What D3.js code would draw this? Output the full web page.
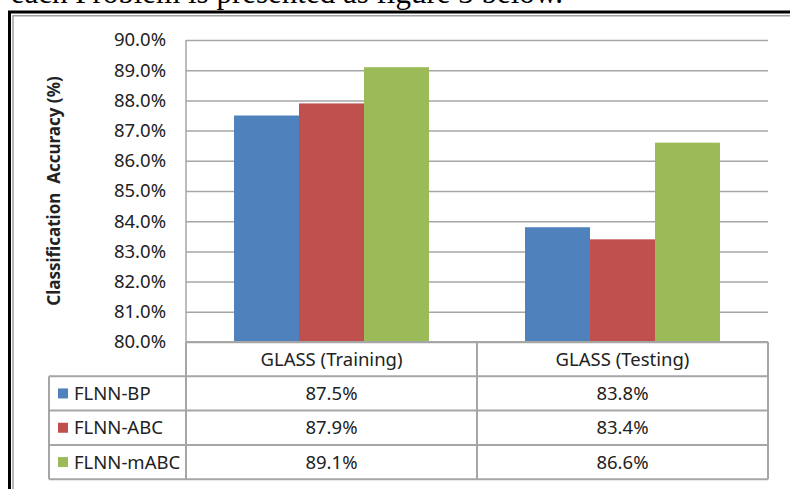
<!DOCTYPE html>
<html>
<head>
<meta charset="utf-8">
<script src="https://cdn.jsdelivr.net/npm/d3@7"></script>
<style>
  body { margin: 0; background: #fff; }
  svg { display: block; }
  text { font-family: "Noto Sans", sans-serif; fill: #222; }
</style>
</head>
<body>
<svg width="790" height="489"></svg>
<script>
// Data
var categories = ['GLASS (Training)', 'GLASS (Testing)'];
var seriesNames = ['FLNN-BP', 'FLNN-ABC', 'FLNN-mABC'];
var seriesColors = ['#4F81BD', '#C0504D', '#9BBB59'];
var flnnBP = [87.5, 83.8];
var flnnABC = [87.9, 83.4];
var flnnMABC = [89.1, 86.6];
var yTicks = [80, 81, 82, 83, 84, 85, 86, 87, 88, 89, 90];

var seriesValues = [flnnBP, flnnABC, flnnMABC];

var svg = d3.select('svg');

// Layout
var plot = {l: 186, r: 768, t: 40, b: 342};
var table = {l: 49, col: 477, rowH: 34.3};

var xScale = d3.scaleBand()
    .domain(categories)
    .range([plot.l, plot.r])
    .paddingInner(0.33)
    .paddingOuter(0.165);

var seriesScale = d3.scaleBand()
    .domain(seriesNames)
    .range([0, xScale.bandwidth()]);

var yScale = d3.scaleLinear().domain([80, 90]).range([plot.b, plot.t]);

// Top line of surrounding document text (cut off in the source image)
svg.append('text')
    .attr('x', 563)
    .attr('y', 2.5)
    .attr('text-anchor', 'end')
    .style('font-family', '"Liberation Serif", serif')
    .style('font-size', '31px')
    .style('fill', '#000')
    .text('each Problem is presented as figure 3 below.');

// Outer frame: thick black + thin gray
svg.append('path')
    .attr('d', 'M9.5,489V12H800')
    .attr('fill', 'none').attr('stroke', '#000').attr('stroke-width', 3);
svg.append('path')
    .attr('d', 'M13,489V15.8H800')
    .attr('fill', 'none').attr('stroke', '#a0a0a0').attr('stroke-width', 1.5);

// Gridlines
var yAxis = d3.axisLeft(yScale)
    .tickValues(yTicks)
    .tickSize(-(plot.r - plot.l))
    .tickFormat(function(d) { return d3.format('.1f')(d) + '%'; });

var yAxisG = svg.append('g')
    .attr('transform', 'translate(' + plot.l + ',0)')
    .call(yAxis);
yAxisG.select('.domain').remove();
yAxisG.selectAll('.tick line')
    .attr('stroke', '#a6a6a6')
    .attr('stroke-width', 1.5);
yAxisG.selectAll('.tick text')
    .attr('x', -20)
    .style('font-size', '18.5px')
    .style('font-family', '"Noto Sans", sans-serif')
    .attr('fill', '#222');

// Left axis line
svg.append('line')
    .attr('x1', plot.l).attr('x2', plot.l)
    .attr('y1', plot.t).attr('y2', plot.b)
    .attr('stroke', '#a6a6a6').attr('stroke-width', 1.5);

// Bars
var groups = svg.selectAll('.group')
    .data(categories)
    .enter()
    .append('g')
    .attr('class', 'group')
    .attr('transform', function(d) { return 'translate(' + xScale(d) + ',0)'; });

groups.selectAll('rect')
    .data(function(cat, ci) {
        return seriesNames.map(function(s, si) {
            return {series: s, value: seriesValues[si][ci], color: seriesColors[si]};
        });
    })
    .enter()
    .append('rect')
    .attr('x', function(d) { return seriesScale(d.series); })
    .attr('width', seriesScale.bandwidth())
    .attr('y', function(d) { return yScale(d.value); })
    .attr('height', function(d) { return yScale(80) - yScale(d.value); })
    .attr('fill', function(d) { return d.color; });

// Y axis title
svg.append('text')
    .attr('transform', 'translate(60,' + ((plot.t + plot.b) / 2) + ')rotate(-90)')
    .attr('text-anchor', 'middle')
    .style('font-size', '17px')
    .style('font-weight', 'bold')
    .style('white-space', 'pre')
    .attr('fill', '#111')
    .text('Classification  Accuracy (%)');

// Data table
var tableG = svg.append('g');
var gridStroke = '#a6a6a6';
var headerTop = plot.b;
var rowsTop = headerTop + table.rowH;
var tableBottom = rowsTop + table.rowH * seriesNames.length;

function hline(x1, x2, y) {
    tableG.append('line')
        .attr('x1', x1).attr('x2', x2).attr('y1', y).attr('y2', y)
        .attr('stroke', gridStroke).attr('stroke-width', 2);
}
function vline(x, y1, y2) {
    tableG.append('line')
        .attr('x1', x).attr('x2', x).attr('y1', y1).attr('y2', y2)
        .attr('stroke', gridStroke).attr('stroke-width', 2);
}

hline(plot.l, plot.r, headerTop);
for (var i = 0; i <= seriesNames.length; i++) {
    hline(table.l, plot.r, rowsTop + i * table.rowH);
}
vline(table.l, rowsTop, tableBottom);
vline(plot.l, headerTop, tableBottom);
vline(table.col, headerTop, tableBottom);
vline(plot.r, headerTop, tableBottom);

// Header labels
tableG.selectAll('.head')
    .data(categories)
    .enter()
    .append('text')
    .attr('class', 'head')
    .attr('x', function(d) { return xScale(d) + xScale.bandwidth() / 2; })
    .attr('y', headerTop + table.rowH / 2)
    .attr('dy', '0.35em')
    .attr('text-anchor', 'middle')
    .style('font-size', '18.5px')
    .text(function(d) { return d; });

// Legend rows with values
seriesNames.forEach(function(s, si) {
    var yMid = rowsTop + si * table.rowH + table.rowH / 2;
    tableG.append('rect')
        .attr('x', 58).attr('y', yMid - 5)
        .attr('width', 10).attr('height', 10)
        .attr('fill', seriesColors[si]);
    tableG.append('text')
        .attr('x', 74).attr('y', yMid)
        .attr('dy', '0.35em')
        .style('font-size', '18.5px')
        .text(s);
    categories.forEach(function(cat, ci) {
        tableG.append('text')
            .attr('x', xScale(cat) + xScale.bandwidth() / 2)
            .attr('y', yMid)
            .attr('dy', '0.35em')
            .attr('text-anchor', 'middle')
            .style('font-size', '18.5px')
            .text(d3.format('.1f')(seriesValues[si][ci]) + '%');
    });
});
</script>
</body>
</html>
